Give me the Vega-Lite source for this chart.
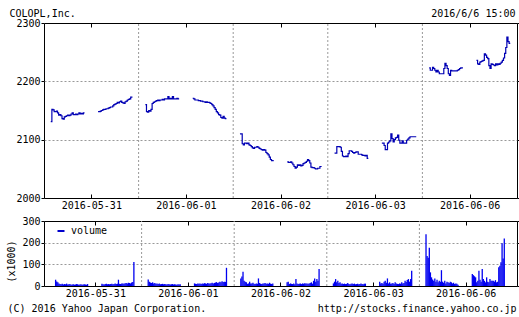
{
  "$schema": "https://vega.github.io/schema/vega-lite/v6.json",
  "padding": {"left": 5, "top": 7, "right": 0, "bottom": 0},
  "background": "#ffffff",
  "spacing": 23,
  "bounds": "flush",
  "datasets": {
    "grid": [{"t": 420}, {"t": 840}, {"t": 1260}, {"t": 1680}],
    "price": [
      {"t":30,"p":2131,"s":0},{"t":35,"p":2152,"s":0},{"t":40,"p":2151,"s":0},{"t":45,"p":2148,"s":0},{"t":50,"p":2148,"s":0},{"t":55,"p":2149,"s":0},{"t":60,"p":2146,"s":0},{"t":65,"p":2142,"s":0},{"t":70,"p":2143,"s":0},{"t":75,"p":2141,"s":0},{"t":80,"p":2136,"s":0},{"t":85,"p":2135,"s":0},{"t":90,"p":2139,"s":0},{"t":95,"p":2140,"s":0},{"t":100,"p":2141,"s":0},{"t":105,"p":2142,"s":0},{"t":110,"p":2141,"s":0},{"t":115,"p":2142,"s":0},{"t":120,"p":2144,"s":0},{"t":125,"p":2146,"s":0},{"t":130,"p":2143,"s":0},{"t":135,"p":2143,"s":0},{"t":140,"p":2144,"s":0},{"t":145,"p":2143,"s":0},{"t":150,"p":2144,"s":0},{"t":155,"p":2146,"s":0},{"t":160,"p":2144,"s":0},{"t":165,"p":2145,"s":0},{"t":170,"p":2144,"s":0},{"t":175,"p":2146,"s":0},{"t":180,"p":2146,"s":0},
      {"t":240,"p":2148,"s":1},{"t":245,"p":2148,"s":1},{"t":250,"p":2149,"s":1},{"t":255,"p":2150,"s":1},{"t":260,"p":2151,"s":1},{"t":265,"p":2152,"s":1},{"t":270,"p":2152,"s":1},{"t":275,"p":2153,"s":1},{"t":280,"p":2153,"s":1},{"t":285,"p":2154,"s":1},{"t":290,"p":2155,"s":1},{"t":295,"p":2156,"s":1},{"t":300,"p":2156,"s":1},{"t":305,"p":2158,"s":1},{"t":310,"p":2160,"s":1},{"t":315,"p":2161,"s":1},{"t":320,"p":2162,"s":1},{"t":325,"p":2164,"s":1},{"t":330,"p":2163,"s":1},{"t":335,"p":2165,"s":1},{"t":340,"p":2166,"s":1},{"t":345,"p":2164,"s":1},{"t":350,"p":2163,"s":1},{"t":355,"p":2162,"s":1},{"t":360,"p":2165,"s":1},{"t":365,"p":2166,"s":1},{"t":370,"p":2168,"s":1},{"t":375,"p":2169,"s":1},{"t":380,"p":2170,"s":1},{"t":385,"p":2173,"s":1},{"t":390,"p":2174,"s":1},
      {"t":450,"p":2160,"s":2},{"t":455,"p":2148,"s":2},{"t":460,"p":2147,"s":2},{"t":465,"p":2150,"s":2},{"t":470,"p":2149,"s":2},{"t":475,"p":2152,"s":2},{"t":480,"p":2162,"s":2},{"t":485,"p":2164,"s":2},{"t":490,"p":2165,"s":2},{"t":495,"p":2166,"s":2},{"t":500,"p":2167,"s":2},{"t":505,"p":2168,"s":2},{"t":510,"p":2167,"s":2},{"t":515,"p":2168,"s":2},{"t":520,"p":2168,"s":2},{"t":525,"p":2169,"s":2},{"t":530,"p":2168,"s":2},{"t":535,"p":2170,"s":2},{"t":540,"p":2170,"s":2},{"t":545,"p":2170,"s":2},{"t":550,"p":2174,"s":2},{"t":555,"p":2170,"s":2},{"t":560,"p":2171,"s":2},{"t":565,"p":2170,"s":2},{"t":570,"p":2174,"s":2},{"t":575,"p":2170,"s":2},{"t":580,"p":2170,"s":2},{"t":585,"p":2170,"s":2},{"t":590,"p":2171,"s":2},{"t":595,"p":2170,"s":2},{"t":600,"p":2170,"s":2},
      {"t":660,"p":2171,"s":3},{"t":665,"p":2170,"s":3},{"t":670,"p":2168,"s":3},{"t":675,"p":2168,"s":3},{"t":680,"p":2168,"s":3},{"t":685,"p":2167,"s":3},{"t":690,"p":2167,"s":3},{"t":695,"p":2166,"s":3},{"t":700,"p":2166,"s":3},{"t":705,"p":2165,"s":3},{"t":710,"p":2165,"s":3},{"t":715,"p":2164,"s":3},{"t":720,"p":2165,"s":3},{"t":725,"p":2164,"s":3},{"t":730,"p":2164,"s":3},{"t":735,"p":2163,"s":3},{"t":740,"p":2162,"s":3},{"t":745,"p":2160,"s":3},{"t":750,"p":2158,"s":3},{"t":755,"p":2155,"s":3},{"t":760,"p":2152,"s":3},{"t":765,"p":2148,"s":3},{"t":770,"p":2146,"s":3},{"t":775,"p":2143,"s":3},{"t":780,"p":2142,"s":3},{"t":785,"p":2138,"s":3},{"t":790,"p":2137,"s":3},{"t":795,"p":2140,"s":3},{"t":800,"p":2137,"s":3},{"t":805,"p":2136,"s":3},{"t":810,"p":2136,"s":3},
      {"t":870,"p":2110,"s":4},{"t":875,"p":2110,"s":4},{"t":880,"p":2093,"s":4},{"t":885,"p":2091,"s":4},{"t":890,"p":2094,"s":4},{"t":895,"p":2094,"s":4},{"t":900,"p":2093,"s":4},{"t":905,"p":2094,"s":4},{"t":910,"p":2091,"s":4},{"t":915,"p":2090,"s":4},{"t":920,"p":2088,"s":4},{"t":925,"p":2086,"s":4},{"t":930,"p":2085,"s":4},{"t":935,"p":2087,"s":4},{"t":940,"p":2087,"s":4},{"t":945,"p":2088,"s":4},{"t":950,"p":2087,"s":4},{"t":955,"p":2085,"s":4},{"t":960,"p":2084,"s":4},{"t":965,"p":2083,"s":4},{"t":970,"p":2082,"s":4},{"t":975,"p":2083,"s":4},{"t":980,"p":2082,"s":4},{"t":985,"p":2078,"s":4},{"t":990,"p":2076,"s":4},{"t":995,"p":2074,"s":4},{"t":1000,"p":2070,"s":4},{"t":1005,"p":2066,"s":4},{"t":1010,"p":2064,"s":4},{"t":1015,"p":2064,"s":4},{"t":1020,"p":2064,"s":4},
      {"t":1080,"p":2062,"s":5},{"t":1085,"p":2061,"s":5},{"t":1090,"p":2061,"s":5},{"t":1095,"p":2062,"s":5},{"t":1100,"p":2060,"s":5},{"t":1105,"p":2057,"s":5},{"t":1110,"p":2054,"s":5},{"t":1115,"p":2051,"s":5},{"t":1120,"p":2053,"s":5},{"t":1125,"p":2057,"s":5},{"t":1130,"p":2056,"s":5},{"t":1135,"p":2057,"s":5},{"t":1140,"p":2055,"s":5},{"t":1145,"p":2056,"s":5},{"t":1150,"p":2059,"s":5},{"t":1155,"p":2060,"s":5},{"t":1160,"p":2061,"s":5},{"t":1165,"p":2063,"s":5},{"t":1170,"p":2066,"s":5},{"t":1175,"p":2064,"s":5},{"t":1180,"p":2060,"s":5},{"t":1185,"p":2053,"s":5},{"t":1190,"p":2052,"s":5},{"t":1195,"p":2052,"s":5},{"t":1200,"p":2051,"s":5},{"t":1205,"p":2050,"s":5},{"t":1210,"p":2050,"s":5},{"t":1215,"p":2051,"s":5},{"t":1220,"p":2051,"s":5},{"t":1225,"p":2054,"s":5},{"t":1230,"p":2053,"s":5},
      {"t":1290,"p":2077,"s":6},{"t":1295,"p":2077,"s":6},{"t":1300,"p":2088,"s":6},{"t":1305,"p":2088,"s":6},{"t":1310,"p":2088,"s":6},{"t":1315,"p":2087,"s":6},{"t":1320,"p":2080,"s":6},{"t":1325,"p":2072,"s":6},{"t":1330,"p":2071,"s":6},{"t":1335,"p":2071,"s":6},{"t":1340,"p":2072,"s":6},{"t":1345,"p":2071,"s":6},{"t":1350,"p":2076,"s":6},{"t":1355,"p":2081,"s":6},{"t":1360,"p":2081,"s":6},{"t":1365,"p":2080,"s":6},{"t":1370,"p":2078,"s":6},{"t":1375,"p":2077,"s":6},{"t":1380,"p":2078,"s":6},{"t":1385,"p":2079,"s":6},{"t":1390,"p":2079,"s":6},{"t":1395,"p":2075,"s":6},{"t":1400,"p":2075,"s":6},{"t":1405,"p":2075,"s":6},{"t":1410,"p":2074,"s":6},{"t":1415,"p":2073,"s":6},{"t":1420,"p":2073,"s":6},{"t":1425,"p":2072,"s":6},{"t":1430,"p":2073,"s":6},{"t":1435,"p":2068,"s":6},{"t":1440,"p":2068,"s":6},
      {"t":1500,"p":2094,"s":7},{"t":1505,"p":2094,"s":7},{"t":1510,"p":2090,"s":7},{"t":1515,"p":2083,"s":7},{"t":1520,"p":2083,"s":7},{"t":1525,"p":2094,"s":7},{"t":1530,"p":2096,"s":7},{"t":1535,"p":2098,"s":7},{"t":1540,"p":2110,"s":7},{"t":1545,"p":2102,"s":7},{"t":1550,"p":2096,"s":7},{"t":1555,"p":2100,"s":7},{"t":1560,"p":2103,"s":7},{"t":1565,"p":2104,"s":7},{"t":1570,"p":2108,"s":7},{"t":1575,"p":2099,"s":7},{"t":1580,"p":2094,"s":7},{"t":1585,"p":2094,"s":7},{"t":1590,"p":2098,"s":7},{"t":1595,"p":2094,"s":7},{"t":1600,"p":2094,"s":7},{"t":1605,"p":2094,"s":7},{"t":1610,"p":2099,"s":7},{"t":1615,"p":2101,"s":7},{"t":1620,"p":2103,"s":7},{"t":1625,"p":2105,"s":7},{"t":1630,"p":2105,"s":7},{"t":1635,"p":2105,"s":7},{"t":1640,"p":2105,"s":7},{"t":1645,"p":2105,"s":7},{"t":1650,"p":2104,"s":7},
      {"t":1710,"p":2223,"s":8},{"t":1715,"p":2219,"s":8},{"t":1720,"p":2219,"s":8},{"t":1725,"p":2224,"s":8},{"t":1730,"p":2222,"s":8},{"t":1735,"p":2219,"s":8},{"t":1740,"p":2216,"s":8},{"t":1745,"p":2219,"s":8},{"t":1750,"p":2216,"s":8},{"t":1755,"p":2213,"s":8},{"t":1760,"p":2213,"s":8},{"t":1765,"p":2213,"s":8},{"t":1770,"p":2213,"s":8},{"t":1775,"p":2222,"s":8},{"t":1780,"p":2231,"s":8},{"t":1785,"p":2227,"s":8},{"t":1790,"p":2222,"s":8},{"t":1795,"p":2213,"s":8},{"t":1800,"p":2210,"s":8},{"t":1805,"p":2219,"s":8},{"t":1810,"p":2218,"s":8},{"t":1815,"p":2218,"s":8},{"t":1820,"p":2218,"s":8},{"t":1825,"p":2218,"s":8},{"t":1830,"p":2218,"s":8},{"t":1835,"p":2219,"s":8},{"t":1840,"p":2220,"s":8},{"t":1845,"p":2222,"s":8},{"t":1850,"p":2223,"s":8},{"t":1855,"p":2223,"s":8},{"t":1860,"p":2223,"s":8},
      {"t":1920,"p":2236,"s":9},{"t":1925,"p":2230,"s":9},{"t":1930,"p":2229,"s":9},{"t":1935,"p":2233,"s":9},{"t":1940,"p":2234,"s":9},{"t":1945,"p":2235,"s":9},{"t":1950,"p":2236,"s":9},{"t":1955,"p":2247,"s":9},{"t":1960,"p":2245,"s":9},{"t":1965,"p":2241,"s":9},{"t":1970,"p":2239,"s":9},{"t":1975,"p":2227,"s":9},{"t":1980,"p":2222,"s":9},{"t":1985,"p":2230,"s":9},{"t":1990,"p":2229,"s":9},{"t":1995,"p":2228,"s":9},{"t":2000,"p":2227,"s":9},{"t":2005,"p":2230,"s":9},{"t":2010,"p":2228,"s":9},{"t":2015,"p":2230,"s":9},{"t":2020,"p":2229,"s":9},{"t":2025,"p":2231,"s":9},{"t":2030,"p":2233,"s":9},{"t":2035,"p":2236,"s":9},{"t":2040,"p":2240,"s":9},{"t":2045,"p":2248,"s":9},{"t":2050,"p":2258,"s":9},{"t":2055,"p":2276,"s":9},{"t":2060,"p":2268,"s":9},{"t":2065,"p":2265,"s":9},{"t":2070,"p":2265,"s":9}
    ],
    "vol": [
      {"t":30,"v":29},{"t":35,"v":21},{"t":40,"v":17},{"t":45,"v":12},{"t":50,"v":9},{"t":55,"v":8},{"t":60,"v":10},{"t":65,"v":7},{"t":70,"v":9},{"t":75,"v":8},{"t":80,"v":11},{"t":85,"v":7},{"t":90,"v":8},{"t":95,"v":9},{"t":100,"v":6},{"t":105,"v":7},{"t":110,"v":8},{"t":115,"v":6},{"t":120,"v":7},{"t":125,"v":9},{"t":130,"v":8},{"t":135,"v":6},{"t":140,"v":7},{"t":145,"v":8},{"t":150,"v":6},{"t":155,"v":7},{"t":160,"v":8},{"t":165,"v":7},{"t":170,"v":6},{"t":175,"v":9},
      {"t":240,"v":10},{"t":245,"v":8},{"t":250,"v":7},{"t":255,"v":9},{"t":260,"v":10},{"t":265,"v":8},{"t":270,"v":9},{"t":275,"v":8},{"t":280,"v":9},{"t":285,"v":10},{"t":290,"v":8},{"t":295,"v":9},{"t":300,"v":11},{"t":305,"v":9},{"t":310,"v":10},{"t":315,"v":29},{"t":320,"v":10},{"t":325,"v":9},{"t":330,"v":11},{"t":335,"v":12},{"t":340,"v":10},{"t":345,"v":13},{"t":350,"v":14},{"t":355,"v":12},{"t":360,"v":15},{"t":365,"v":14},{"t":370,"v":12},{"t":375,"v":16},{"t":380,"v":18},{"t":385,"v":111},
      {"t":450,"v":30},{"t":455,"v":20},{"t":460,"v":16},{"t":465,"v":14},{"t":470,"v":17},{"t":475,"v":12},{"t":480,"v":14},{"t":485,"v":10},{"t":490,"v":12},{"t":495,"v":9},{"t":500,"v":11},{"t":505,"v":8},{"t":510,"v":9},{"t":515,"v":10},{"t":520,"v":8},{"t":525,"v":9},{"t":530,"v":8},{"t":535,"v":7},{"t":540,"v":9},{"t":545,"v":8},{"t":550,"v":7},{"t":555,"v":8},{"t":560,"v":9},{"t":565,"v":7},{"t":570,"v":8},{"t":575,"v":7},{"t":580,"v":6},{"t":585,"v":8},{"t":590,"v":7},{"t":595,"v":8},
      {"t":660,"v":12},{"t":665,"v":10},{"t":670,"v":9},{"t":675,"v":11},{"t":680,"v":10},{"t":685,"v":12},{"t":690,"v":9},{"t":695,"v":11},{"t":700,"v":10},{"t":705,"v":13},{"t":710,"v":12},{"t":715,"v":10},{"t":720,"v":14},{"t":725,"v":12},{"t":730,"v":11},{"t":735,"v":13},{"t":740,"v":15},{"t":745,"v":12},{"t":750,"v":14},{"t":755,"v":16},{"t":760,"v":18},{"t":765,"v":14},{"t":770,"v":16},{"t":775,"v":20},{"t":780,"v":17},{"t":785,"v":22},{"t":790,"v":18},{"t":795,"v":20},{"t":800,"v":19},{"t":805,"v":84},
      {"t":870,"v":35},{"t":875,"v":44},{"t":880,"v":66},{"t":885,"v":24},{"t":890,"v":20},{"t":895,"v":17},{"t":900,"v":10},{"t":905,"v":12},{"t":910,"v":20},{"t":915,"v":12},{"t":920,"v":11},{"t":925,"v":15},{"t":930,"v":10},{"t":935,"v":9},{"t":940,"v":12},{"t":945,"v":10},{"t":950,"v":35},{"t":955,"v":14},{"t":960,"v":10},{"t":965,"v":9},{"t":970,"v":11},{"t":975,"v":12},{"t":980,"v":14},{"t":985,"v":10},{"t":990,"v":12},{"t":995,"v":10},{"t":1000,"v":15},{"t":1005,"v":11},{"t":1010,"v":9},{"t":1015,"v":12},
      {"t":1080,"v":17},{"t":1085,"v":20},{"t":1090,"v":9},{"t":1095,"v":12},{"t":1100,"v":10},{"t":1105,"v":9},{"t":1110,"v":11},{"t":1115,"v":8},{"t":1120,"v":32},{"t":1125,"v":12},{"t":1130,"v":9},{"t":1135,"v":10},{"t":1140,"v":11},{"t":1145,"v":9},{"t":1150,"v":12},{"t":1155,"v":10},{"t":1160,"v":13},{"t":1165,"v":11},{"t":1170,"v":12},{"t":1175,"v":10},{"t":1180,"v":12},{"t":1185,"v":14},{"t":1190,"v":17},{"t":1195,"v":11},{"t":1200,"v":24},{"t":1205,"v":35},{"t":1210,"v":20},{"t":1215,"v":32},{"t":1220,"v":24},{"t":1225,"v":78},
      {"t":1290,"v":12},{"t":1295,"v":20},{"t":1300,"v":32},{"t":1305,"v":17},{"t":1310,"v":24},{"t":1315,"v":14},{"t":1320,"v":17},{"t":1325,"v":10},{"t":1330,"v":12},{"t":1335,"v":9},{"t":1340,"v":11},{"t":1345,"v":9},{"t":1350,"v":10},{"t":1355,"v":14},{"t":1360,"v":9},{"t":1365,"v":8},{"t":1370,"v":10},{"t":1375,"v":12},{"t":1380,"v":9},{"t":1385,"v":11},{"t":1390,"v":8},{"t":1395,"v":9},{"t":1400,"v":10},{"t":1405,"v":8},{"t":1410,"v":9},{"t":1415,"v":12},{"t":1420,"v":9},{"t":1425,"v":8},{"t":1430,"v":10},{"t":1435,"v":11},
      {"t":1500,"v":20},{"t":1505,"v":12},{"t":1510,"v":14},{"t":1515,"v":10},{"t":1520,"v":20},{"t":1525,"v":24},{"t":1530,"v":15},{"t":1535,"v":35},{"t":1540,"v":12},{"t":1545,"v":17},{"t":1550,"v":10},{"t":1555,"v":12},{"t":1560,"v":14},{"t":1565,"v":9},{"t":1570,"v":17},{"t":1575,"v":11},{"t":1580,"v":10},{"t":1585,"v":9},{"t":1590,"v":12},{"t":1595,"v":10},{"t":1600,"v":17},{"t":1605,"v":11},{"t":1610,"v":14},{"t":1615,"v":24},{"t":1620,"v":18},{"t":1625,"v":28},{"t":1630,"v":32},{"t":1635,"v":20},{"t":1640,"v":32},{"t":1645,"v":70},
      {"t":1710,"v":239},{"t":1715,"v":139},{"t":1720,"v":130},{"t":1725,"v":177},{"t":1730,"v":63},{"t":1735,"v":40},{"t":1740,"v":30},{"t":1745,"v":24},{"t":1750,"v":35},{"t":1755,"v":20},{"t":1760,"v":29},{"t":1765,"v":17},{"t":1770,"v":24},{"t":1775,"v":20},{"t":1780,"v":73},{"t":1785,"v":20},{"t":1790,"v":15},{"t":1795,"v":24},{"t":1800,"v":12},{"t":1805,"v":20},{"t":1810,"v":17},{"t":1815,"v":14},{"t":1820,"v":20},{"t":1825,"v":17},{"t":1830,"v":12},{"t":1835,"v":15},{"t":1840,"v":9},{"t":1845,"v":12},{"t":1850,"v":10},{"t":1855,"v":6},
      {"t":1920,"v":55},{"t":1925,"v":50},{"t":1930,"v":45},{"t":1935,"v":40},{"t":1940,"v":17},{"t":1945,"v":24},{"t":1950,"v":70},{"t":1955,"v":29},{"t":1960,"v":20},{"t":1965,"v":78},{"t":1970,"v":32},{"t":1975,"v":24},{"t":1980,"v":17},{"t":1985,"v":40},{"t":1990,"v":20},{"t":1995,"v":17},{"t":2000,"v":32},{"t":2005,"v":24},{"t":2010,"v":24},{"t":2015,"v":24},{"t":2020,"v":20},{"t":2025,"v":27},{"t":2030,"v":17},{"t":2035,"v":20},{"t":2040,"v":86},{"t":2045,"v":93},{"t":2050,"v":110},{"t":2055,"v":197},{"t":2060,"v":127},{"t":2065,"v":219}
    ]
  },
  "vconcat": [
    {
      "width": 473,
      "height": 175,
      "resolve": {"axis": {"x": "independent", "y": "independent"}},
      "layer": [
        {
          "data": {"name": "grid"},
          "mark": {"type": "rule", "color": "#999999", "strokeDash": [2, 2], "strokeWidth": 1},
          "encoding": {
            "x": {"field": "t", "type": "quantitative", "scale": {"domain": [0, 2100], "nice": false, "zero": false},
              "axis": {"orient": "top", "values": [210, 630, 1050, 1470, 1890], "labels": false, "tickSize": -4, "grid": false,
                "title": "2016/6/6 15:00", "titleAngle": 0, "titleAlign": "right", "titleBaseline": "alphabetic", "titleX": 471, "titleY": -7}},
            "y": {"datum": 2000, "type": "quantitative", "scale": {"domain": [2000, 2300], "nice": false, "zero": false},
              "axis": {"orient": "right", "values": [2000, 2100, 2200, 2300], "labels": false, "tickSize": 3, "grid": false, "title": null}},
            "y2": {"datum": 2300}
          }
        },
        {
          "data": {"name": "price"},
          "mark": {"type": "line", "interpolate": "step-after", "color": "#0000b4", "strokeWidth": 1.2},
          "encoding": {
            "x": {"field": "t", "type": "quantitative", "scale": {"domain": [0, 2100], "nice": false, "zero": false},
              "axis": {"orient": "bottom", "values": [210, 630, 1050, 1470, 1890], "tickSize": -4, "labelPadding": 6, "grid": false, "title": null,
                "labelExpr": "['2016-05-31','2016-06-01','2016-06-02','2016-06-03','2016-06-06'][floor(datum.value/420)]"}},
            "y": {"field": "p", "type": "quantitative", "scale": {"domain": [2000, 2300], "nice": false, "zero": false},
              "axis": {"orient": "left", "values": [2000, 2100, 2200, 2300], "format": "d", "tickSize": 3, "labelPadding": 1,
                "grid": true, "gridColor": "#999999", "gridDash": [2, 2],
                "gridOpacity": {"condition": {"test": "datum.value == 2000 || datum.value == 2300", "value": 0}, "value": 1},
                "title": "COLOPL,Inc.", "titleAngle": 0, "titleAlign": "left", "titleBaseline": "alphabetic", "titleX": -35, "titleY": -7}},
            "detail": {"field": "s", "type": "nominal"}
          }
        }
      ]
    },
    {
      "width": 473,
      "height": 65,
      "resolve": {"axis": {"x": "independent", "y": "independent"}},
      "layer": [
        {
          "data": {"name": "grid"},
          "mark": {"type": "rule", "color": "#999999", "strokeDash": [2, 2], "strokeWidth": 1},
          "encoding": {
            "x": {"field": "t", "type": "quantitative", "scale": {"domain": [0, 2100], "nice": false, "zero": false},
              "axis": {"orient": "top", "values": [210, 630, 1050, 1470, 1890], "labels": false, "tickSize": -4, "grid": false, "title": null}},
            "y": {"datum": 0, "type": "quantitative", "scale": {"domain": [0, 300], "nice": false},
              "axis": {"orient": "right", "values": [0, 100, 200, 300], "labels": false, "tickSize": 3, "grid": false,
                "title": "http://stocks.finance.yahoo.co.jp", "titleAngle": 0, "titleAlign": "right", "titleBaseline": "alphabetic", "titleX": -1, "titleY": 90}},
            "y2": {"datum": 300}
          }
        },
        {
          "data": {"name": "vol"},
          "mark": {"type": "bar", "width": 1.3},
          "encoding": {
            "x": {"field": "t", "type": "quantitative", "scale": {"domain": [0, 2100], "nice": false, "zero": false},
              "axis": {"orient": "bottom", "values": [210, 630, 1050, 1470, 1890], "tickSize": -4, "labelPadding": 6, "grid": false,
                "labelExpr": "['2016-05-31','2016-06-01','2016-06-02','2016-06-03','2016-06-06'][floor(datum.value/420)]",
                "title": "(C) 2016 Yahoo Japan Corporation.", "titleAngle": 0, "titleAlign": "left", "titleBaseline": "alphabetic", "titleX": -37, "titleY": 25}},
            "y": {"field": "v", "type": "quantitative", "scale": {"domain": [0, 300], "nice": false},
              "axis": {"orient": "left", "values": [0, 100, 200, 300], "format": "d", "tickSize": 3, "labelPadding": 1,
                "grid": true, "gridColor": "#999999", "gridDash": [2, 2],
                "gridOpacity": {"condition": {"test": "datum.value == 0 || datum.value == 300", "value": 0}, "value": 1},
                "title": "(x1000)", "titleAngle": 270, "titleAlign": "center", "titleBaseline": "middle", "titleX": -33, "titleY": 40}},
            "color": {"datum": "volume", "type": "nominal", "scale": {"range": ["#0000f0"]},
              "legend": {"orient": "none", "legendX": 12, "legendY": 203, "title": null, "padding": 0,
                "symbolType": "stroke", "symbolSize": 49, "symbolStrokeWidth": 2, "symbolStrokeColor": "#0000cc",
                "labelFont": "DejaVu Sans Mono", "labelFontSize": 10, "labelColor": "#000000", "labelOffset": 5}}
          }
        }
      ]
    }
  ],
  "config": {
    "font": "DejaVu Sans Mono",
    "view": {"stroke": "#000000", "strokeWidth": 1},
    "axis": {
      "labelFont": "DejaVu Sans Mono", "labelFontSize": 10, "labelColor": "#000000",
      "titleFont": "DejaVu Sans Mono", "titleFontSize": 10, "titleFontWeight": "normal", "titleColor": "#000000",
      "domain": false, "tickColor": "#000000", "tickWidth": 1
    }
  }
}
